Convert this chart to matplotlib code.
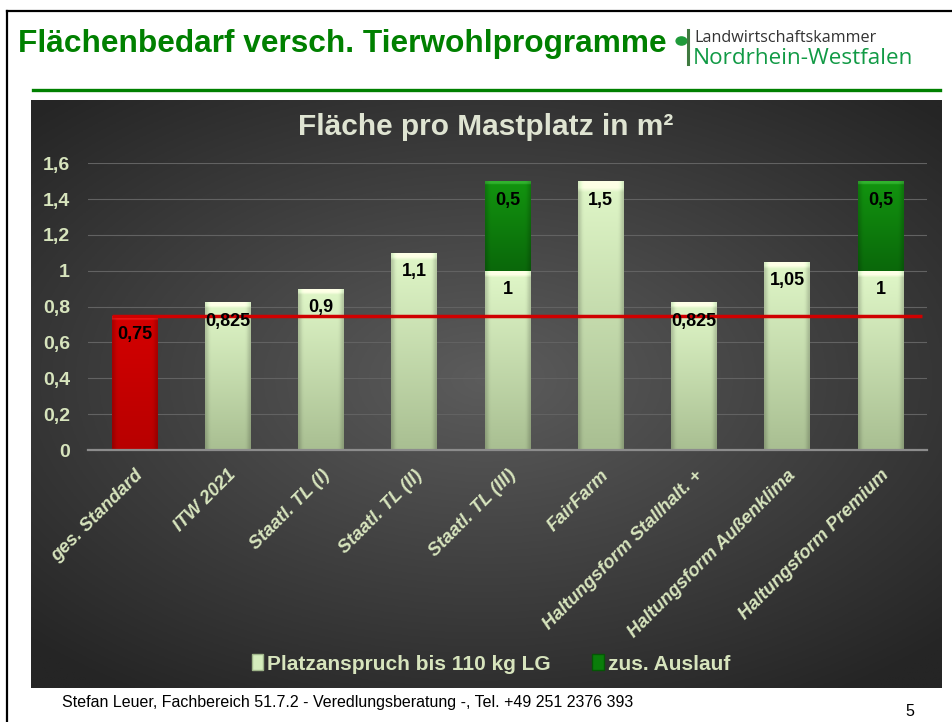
import numpy as np
import matplotlib.pyplot as plt
from matplotlib.lines import Line2D
from matplotlib.patches import Patch, Circle
from matplotlib.ticker import FuncFormatter
from matplotlib.colors import to_rgb

plt.rcParams['font.family'] = ['Liberation Sans', 'DejaVu Sans']

# --- Daten ---
categories = ['ges. Standard', 'ITW 2021', 'Staatl. TL (I)', 'Staatl. TL (II)', 'Staatl. TL (III)',
              'FairFarm', 'Haltungsform Stallhalt. +', 'Haltungsform Außenklima', 'Haltungsform Premium']
platz = [0.75, 0.825, 0.9, 1.1, 1.0, 1.5, 0.825, 1.05, 1.0]
auslauf = [0, 0, 0, 0, 0.5, 0, 0, 0, 0.5]
standard = 0.75
yticks = [0, 0.2, 0.4, 0.6, 0.8, 1.0, 1.2, 1.4, 1.6]

series_names = ['Platzanspruch bis 110 kg LG', 'zus. Auslauf']
chart_title = 'Fläche pro Mastplatz in m²'
slide_title = 'Flächenbedarf versch. Tierwohlprogramme'
footer = 'Stefan Leuer, Fachbereich 51.7.2 - Veredlungsberatung -, Tel. +49 251 2376 393'

LIGHT = '#d7e4bd'
W, H = 953, 722


def fx(px):
    return px / W


def fy(py):
    return 1 - py / H


def de(v):
    return f'{v:g}'.replace('.', ',')


def bar_gradient(top, bottom, n=60, m=24):
    # vertikaler Verlauf + dunklere Kanten (Bevel-Effekt)
    t = np.linspace(0, 1, n)[:, None, None]
    c = (1 - t) * np.array(to_rgb(top)) + t * np.array(to_rgb(bottom))
    xs = np.linspace(-1, 1, m)
    edge = 1 - 0.18 * np.clip((np.abs(xs) - 0.8) / 0.2, 0, 1)
    img = c * edge[None, :, None]
    img[:2, :, :] = np.clip(img[:2, :, :] + 0.12, 0, 1)
    return np.clip(img, 0, 1)


fig = plt.figure(figsize=(W / 100, H / 100), dpi=100)

# Folienrahmen
fig.add_artist(Line2D([fx(7), 1], [fy(11), fy(11)], color='black', lw=1.6))
fig.add_artist(Line2D([fx(7.5), fx(7.5)], [fy(11), 0], color='black', lw=1.6))

# Kopfzeile
fig.text(fx(18), fy(44), slide_title, color='#008000', fontsize=22.8, fontweight='bold', va='center')
fig.add_artist(Circle((fx(681.5), fy(41)), 5.4 / W, color='#1f9a3a', transform=fig.transFigure))
fig.add_artist(Line2D([fx(688.5), fx(688.5)], [fy(30), fy(64)], color='#3f7a40', lw=2.2))
fig.text(fx(694), fy(41.5), 'Landwirtschaftskammer', family='Open Sans', fontsize=11.6, color='#333333',
         va='baseline')
fig.text(fx(693), fy(64.5), 'Nordrhein-Westfalen', family='Open Sans', fontsize=16.2, color='#119a45',
         va='baseline')
fig.add_artist(Line2D([fx(33), fx(940)], [fy(89.5), fy(89.5)], color='#008000', lw=2.4))

# Hintergrund-Panel (radialer Verlauf)
bg = fig.add_axes([fx(31), fy(688), fx(942) - fx(31), fy(100) - fy(688)])
gx, gy = np.meshgrid(np.linspace(-1, 1, 300), np.linspace(-1, 1, 240))
r = np.clip(np.sqrt((gx * 0.95) ** 2 + ((gy + 0.05) * 1.05) ** 2) / 1.35, 0, 1)
c_in, c_out = np.array(to_rgb('#5c5c5c')), np.array(to_rgb('#252525'))
bg.imshow((1 - r[..., None]) * c_in + r[..., None] * c_out, aspect='auto', extent=[0, 1, 0, 1])
bg.set_axis_off()

# Diagramm
ax = fig.add_axes([fx(88), fy(450), fx(927) - fx(88), fy(163.3) - fy(450)])
ax.set_facecolor('none')
x = np.arange(len(categories))
bw = 0.49
colors_base = ['#cc0000'] + ['#d5edbd'] * (len(categories) - 1)
b1 = ax.bar(x, platz, bw, color=colors_base, zorder=2, label=series_names[0])
b2 = ax.bar(x, auslauf, bw, bottom=platz, color='#0a7d0a', zorder=2, label=series_names[1])

grads = {
    '#cc0000': bar_gradient('#d40000', '#b80000'),
    '#d5edbd': bar_gradient('#e0f7c8', '#a9bf92'),
    '#0a7d0a': bar_gradient('#12940f', '#0a680a'),
}
for patches, cols in [(b1.patches, colors_base), (b2.patches, ['#0a7d0a'] * len(categories))]:
    for p, col in zip(patches, cols):
        if p.get_height() <= 0:
            continue
        im = ax.imshow(grads[col], extent=[p.get_x(), p.get_x() + p.get_width(), p.get_y(),
                                           p.get_y() + p.get_height()],
                       aspect='auto', zorder=2.5, interpolation='bilinear')
        im.set_clip_path(p)

ax.set_xlim(-0.5, len(categories) - 0.5)
ax.set_ylim(0, 1.6)

# Standard-Linie
ax.hlines(standard, -bw / 2, len(categories) - 0.55, color='#d00000', lw=2.5, zorder=4)

# Werte
for xi, v, a in zip(x, platz, auslauf):
    ax.annotate(de(v), (xi, v), xytext=(0, -19), textcoords='offset pixels', ha='center', va='center',
                fontsize=13, fontweight='bold', color='black', zorder=5)
    if a > 0:
        ax.annotate(de(a), (xi, v + a), xytext=(0, -19), textcoords='offset pixels', ha='center',
                    va='center', fontsize=13, fontweight='bold', color='black', zorder=5)

ax.set_yticks(yticks)
ax.yaxis.set_major_formatter(FuncFormatter(lambda v, pos: de(round(v, 1))))
ax.grid(axis='y', color='#626262', lw=0.8, zorder=0)
ax.set_axisbelow(True)
ax.tick_params(axis='y', length=0, pad=13, labelsize=14, labelcolor=LIGHT)
for lab in ax.get_yticklabels():
    lab.set_fontweight('bold')
ax.set_xticks(x)
ax.set_xticklabels(categories, rotation=45, ha='right', va='top', rotation_mode='anchor',
                   fontsize=13.3, fontweight='bold', fontstyle='italic', color=LIGHT)
ax.tick_params(axis='x', length=0, pad=12)
for s in ['top', 'right', 'left']:
    ax.spines[s].set_visible(False)
ax.spines['bottom'].set_color('#8c8c8c')
ax.spines['bottom'].set_linewidth(1.6)

fig.text(fx(486), fy(127), chart_title, ha='center', va='center', fontsize=21.5, fontweight='bold',
         color='#dfe4d2')

handles = [Patch(facecolor='#d5edbd', edgecolor='#9fb58a'), Patch(facecolor='#0a7d0a', edgecolor='#055505')]
fig.legend(handles, series_names, loc='center', bbox_to_anchor=(fx(491), fy(664)), ncol=2, frameon=False,
           handlelength=0.55, handleheight=0.8, handletextpad=0.2, columnspacing=2.0,
           prop={'size': 15, 'weight': 'bold'}, labelcolor=LIGHT)

# Fußzeile
fig.text(fx(62), fy(702), footer, fontsize=11.5, color='black', va='center')
fig.text(fx(905), fy(711), '5', fontsize=11.5, color='black', va='center')

fig.savefig('out.png', dpi=100)
